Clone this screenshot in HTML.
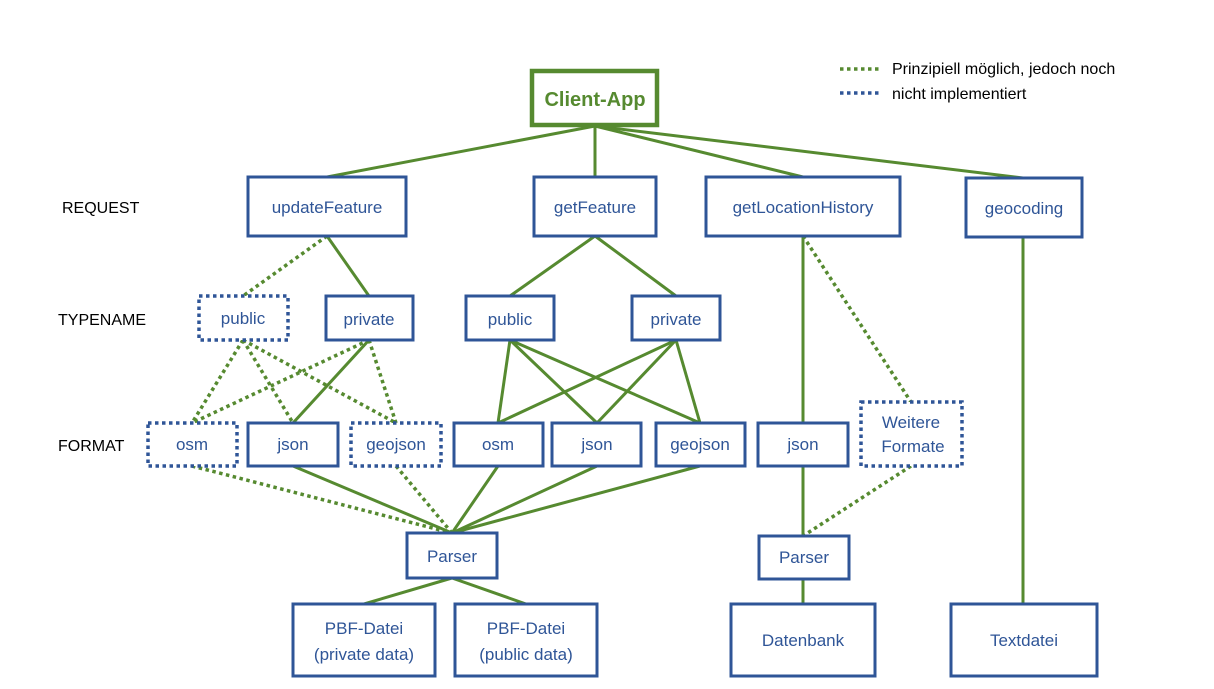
<!DOCTYPE html>
<html><head><meta charset="utf-8"><style>
body{margin:0;background:#fff}
svg{display:block}
text{font-family:"Liberation Sans",sans-serif}
</style></head><body>
<svg width="1214" height="689" viewBox="0 0 1214 689" xmlns="http://www.w3.org/2000/svg">
<g stroke="#568a30" stroke-width="3" fill="none">
<line x1="595" y1="126" x2="327" y2="177"/>
<line x1="595" y1="126" x2="595" y2="177"/>
<line x1="595" y1="126" x2="803" y2="177"/>
<line x1="595" y1="126" x2="1023" y2="178"/>
<line x1="327" y1="236" x2="369" y2="296"/>
<line x1="595" y1="236" x2="510" y2="296"/>
<line x1="595" y1="236" x2="676" y2="296"/>
<line x1="803" y1="236" x2="803" y2="423"/>
<line x1="1023" y1="237" x2="1023" y2="604"/>
<line x1="369" y1="340" x2="293" y2="423"/>
<line x1="510" y1="340" x2="498" y2="423"/>
<line x1="510" y1="340" x2="597" y2="423"/>
<line x1="510" y1="340" x2="700" y2="423"/>
<line x1="676" y1="340" x2="498" y2="423"/>
<line x1="676" y1="340" x2="597" y2="423"/>
<line x1="676" y1="340" x2="700" y2="423"/>
<line x1="293" y1="466" x2="452" y2="533"/>
<line x1="498" y1="466" x2="452" y2="533"/>
<line x1="597" y1="466" x2="452" y2="533"/>
<line x1="700" y1="466" x2="452" y2="533"/>
<line x1="803" y1="466" x2="803" y2="536"/>
<line x1="452" y1="578" x2="364" y2="604"/>
<line x1="452" y1="578" x2="526" y2="604"/>
<line x1="803" y1="579" x2="803" y2="604"/>
</g>
<g stroke="#568a30" stroke-width="3.5" stroke-dasharray="3.5 3.5" fill="none">
<line x1="327" y1="236" x2="243" y2="296"/>
<line x1="803" y1="236" x2="911" y2="402"/>
<line x1="243" y1="340" x2="192" y2="423"/>
<line x1="243" y1="340" x2="293" y2="423"/>
<line x1="243" y1="340" x2="396" y2="423"/>
<line x1="369" y1="340" x2="192" y2="423"/>
<line x1="369" y1="340" x2="396" y2="423"/>
<line x1="192" y1="466" x2="452" y2="533"/>
<line x1="396" y1="466" x2="452" y2="533"/>
<line x1="911" y1="466" x2="803" y2="536"/>
<line x1="840" y1="69" x2="880" y2="69"/>
</g>
<line x1="840" y1="93" x2="880" y2="93" stroke="#2f5597" stroke-width="3.5" stroke-dasharray="3.5 3.5"/>
<rect x="532" y="71" width="125" height="54" fill="#fff" stroke="#568a30" stroke-width="4.5"/>
<g fill="#fff" stroke="#2f5597" stroke-width="3">
<rect x="248" y="177" width="158" height="59"/>
<rect x="534" y="177" width="122" height="59"/>
<rect x="706" y="177" width="194" height="59"/>
<rect x="966" y="178" width="116" height="59"/>
<rect x="326" y="296" width="87" height="44"/>
<rect x="466" y="296" width="88" height="44"/>
<rect x="632" y="296" width="88" height="44"/>
<rect x="248" y="423" width="90" height="43"/>
<rect x="454" y="423" width="89" height="43"/>
<rect x="552" y="423" width="89" height="43"/>
<rect x="656" y="423" width="89" height="43"/>
<rect x="758" y="423" width="90" height="43"/>
<rect x="407" y="533" width="90" height="45"/>
<rect x="759" y="536" width="90" height="43"/>
<rect x="293" y="604" width="142" height="72"/>
<rect x="455" y="604" width="142" height="72"/>
<rect x="731" y="604" width="144" height="72"/>
<rect x="951" y="604" width="146" height="72"/>
</g>
<g fill="#fff" stroke="#2f5597" stroke-width="3.5" stroke-dasharray="3.5 3.5">
<rect x="199" y="296" width="89" height="44"/>
<rect x="148" y="423" width="89" height="43"/>
<rect x="351" y="423" width="90" height="43"/>
<rect x="861" y="402" width="101" height="64"/>
</g>
<text x="595" y="106" text-anchor="middle" font-size="20" font-weight="bold" fill="#568a30">Client-App</text>
<g font-size="17" fill="#2f5597" text-anchor="middle">
<text x="327" y="213">updateFeature</text>
<text x="595" y="213">getFeature</text>
<text x="803" y="213">getLocationHistory</text>
<text x="1024" y="214">geocoding</text>
<text x="243" y="324">public</text>
<text x="369" y="325">private</text>
<text x="510" y="325">public</text>
<text x="676" y="325">private</text>
<text x="192" y="450">osm</text>
<text x="293" y="450">json</text>
<text x="396" y="450">geojson</text>
<text x="498" y="450">osm</text>
<text x="597" y="450">json</text>
<text x="700" y="450">geojson</text>
<text x="803" y="450">json</text>
<text x="911" y="428">Weitere</text>
<text x="913" y="452">Formate</text>
<text x="452" y="562">Parser</text>
<text x="804" y="563">Parser</text>
<text x="364" y="634">PBF-Datei</text>
<text x="364" y="660">(private data)</text>
<text x="526" y="634">PBF-Datei</text>
<text x="526" y="660">(public data)</text>
<text x="803" y="646">Datenbank</text>
<text x="1024" y="646">Textdatei</text>
</g>
<g font-size="16" fill="#000">
<text x="62" y="213">REQUEST</text>
<text x="58" y="325">TYPENAME</text>
<text x="58" y="451">FORMAT</text>
<text x="892" y="74">Prinzipiell möglich, jedoch noch</text>
<text x="892" y="99">nicht implementiert</text>
</g>
</svg>
</body></html>
